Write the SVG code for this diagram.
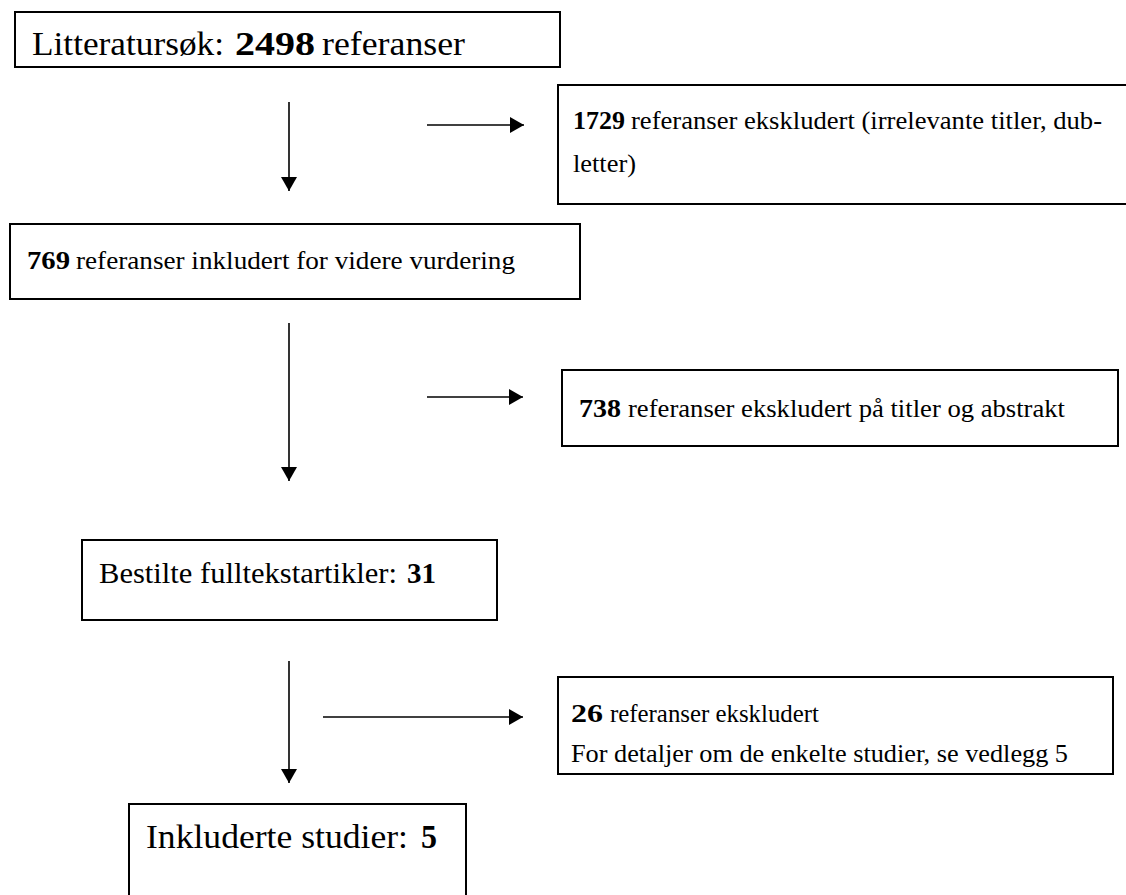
<svg xmlns="http://www.w3.org/2000/svg" width="1126" height="895" viewBox="0 0 1126 895">
<style>
.box{fill:#fff;stroke:#000;stroke-width:2}
.t{font-family:"Liberation Serif","Times New Roman",serif;fill:#000}
.b{font-weight:bold}
.c{stroke:#000;stroke-width:1.6;fill:none}
</style>
<defs>
<marker id="ah" viewBox="0 0 14 16" refX="14" refY="8" markerWidth="14" markerHeight="16" markerUnits="userSpaceOnUse" orient="auto">
<path d="M0,0 L14,8 L0,16 Z" fill="#000"/>
</marker>
</defs>
<rect width="1126" height="895" fill="#fff"/>
<g id="connectors">
<line class="c" x1="289" y1="102" x2="289" y2="191" marker-end="url(#ah)"/>
<line class="c" x1="427" y1="125" x2="524" y2="125" marker-end="url(#ah)"/>
<line class="c" x1="289" y1="323" x2="289" y2="481" marker-end="url(#ah)"/>
<line class="c" x1="427" y1="397" x2="523" y2="397" marker-end="url(#ah)"/>
<line class="c" x1="289" y1="661" x2="289" y2="783" marker-end="url(#ah)"/>
<line class="c" x1="323" y1="717" x2="523" y2="717" marker-end="url(#ah)"/>
</g>
<g id="n1">
<rect class="box" x="15" y="12" width="545" height="55"/>
<text class="t" x="32" y="55" font-size="34" textLength="192" lengthAdjust="spacingAndGlyphs">Litteratursøk:</text>
<text class="t b" x="235" y="55" font-size="34" textLength="80" lengthAdjust="spacingAndGlyphs">2498</text>
<text class="t" x="322" y="55" font-size="34" textLength="143" lengthAdjust="spacingAndGlyphs">referanser</text>
</g>
<g id="n2">
<rect class="box" x="558" y="85" width="580" height="119"/>
<text class="t b" x="573" y="129" font-size="25" textLength="52" lengthAdjust="spacingAndGlyphs">1729</text>
<text class="t" x="631" y="129" font-size="25" textLength="471" lengthAdjust="spacingAndGlyphs">referanser ekskludert (irrelevante titler, dub-</text>
<text class="t" x="573" y="172" font-size="25" textLength="63" lengthAdjust="spacingAndGlyphs">letter)</text>
</g>
<g id="n3">
<rect class="box" x="10" y="224" width="570" height="75"/>
<text class="t b" x="27" y="269" font-size="26" textLength="43" lengthAdjust="spacingAndGlyphs">769</text>
<text class="t" x="76" y="269" font-size="26" textLength="439" lengthAdjust="spacingAndGlyphs">referanser inkludert for videre vurdering</text>
</g>
<g id="n4">
<rect class="box" x="562" y="370" width="556" height="76"/>
<text class="t b" x="579" y="417" font-size="25" textLength="42" lengthAdjust="spacingAndGlyphs">738</text>
<text class="t" x="628" y="417" font-size="25" textLength="437" lengthAdjust="spacingAndGlyphs">referanser ekskludert på titler og abstrakt</text>
</g>
<g id="n5">
<rect class="box" x="82" y="540" width="415" height="80"/>
<text class="t" x="99" y="583" font-size="29" textLength="298" lengthAdjust="spacingAndGlyphs">Bestilte fulltekstartikler:</text>
<text class="t b" x="407" y="583" font-size="29" textLength="29" lengthAdjust="spacingAndGlyphs">31</text>
</g>
<g id="n6">
<rect class="box" x="558" y="677" width="555" height="97"/>
<text class="t b" x="571" y="722" font-size="25" textLength="32" lengthAdjust="spacingAndGlyphs">26</text>
<text class="t" x="610" y="722" font-size="25" textLength="209" lengthAdjust="spacingAndGlyphs">referanser ekskludert</text>
<text class="t" x="571" y="762" font-size="25" textLength="497" lengthAdjust="spacingAndGlyphs">For detaljer om de enkelte studier, se vedlegg 5</text>
</g>
<g id="n7">
<rect class="box" x="129" y="804" width="337" height="110"/>
<text class="t" x="146" y="848" font-size="34.5" textLength="262" lengthAdjust="spacingAndGlyphs">Inkluderte studier:</text>
<text class="t b" x="421" y="848" font-size="34.5" textLength="16" lengthAdjust="spacingAndGlyphs">5</text>
</g>
</svg>
